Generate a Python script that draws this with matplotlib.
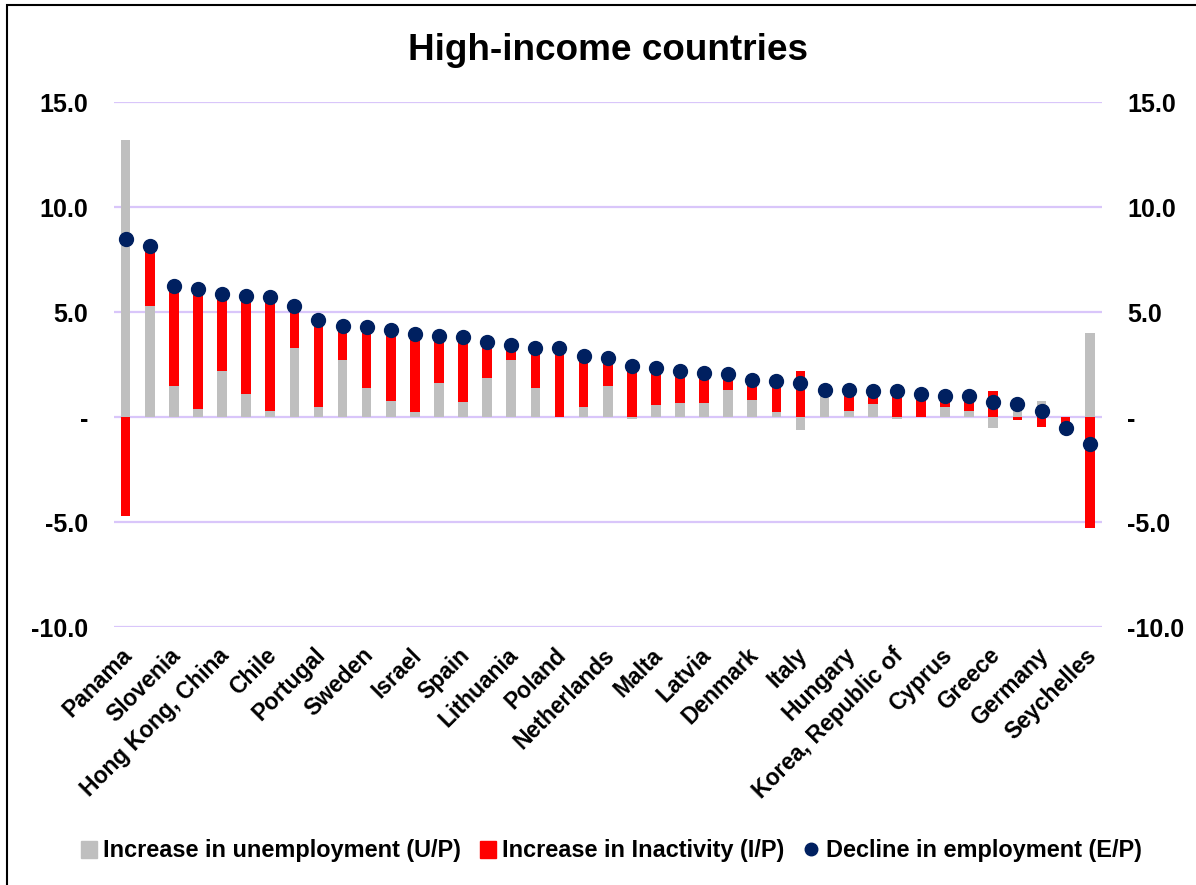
import numpy as np
import matplotlib
matplotlib.use("Agg")
import matplotlib.pyplot as plt
import matplotlib.transforms as mtransforms
from matplotlib.patches import Patch, Rectangle
from matplotlib.lines import Line2D

plt.rcParams['font.family'] = ['Liberation Sans', 'DejaVu Sans']
plt.rcParams['font.weight'] = 'bold'

# labels shown on the axis (every second country)
labels = ["Panama", "Slovenia", "Hong Kong, China", "Chile", "Portugal", "Sweden",
          "Israel", "Spain", "Lithuania", "Poland", "Netherlands", "Malta", "Latvia",
          "Denmark", "Italy", "Hungary", "Korea, Republic of", "Cyprus", "Greece",
          "Germany", "Seychelles"]

# increase in unemployment (U/P)
unemp = [13.2, 5.3, 1.5, 0.4, 2.2, 1.1, 0.3, 3.3, 0.5, 2.7, 1.4, 0.75, 0.25, 1.6,
         0.7, 1.85, 2.7, 1.4, 0.0, 0.5, 1.5, -0.1, 0.55, 0.65, 0.65, 1.3, 0.8, 0.25,
         -0.6, 1.25, 0.27, 0.6, -0.1, 0.0, 0.5, 0.3, -0.5, 0.73, 0.78, 0.0, 4.0]
# increase in inactivity (I/P)
inact = [-4.7, 2.85, 4.75, 5.7, 3.65, 4.65, 5.4, 2.0, 4.1, 1.65, 2.9, 3.4, 3.7, 2.25,
         3.1, 1.7, 0.75, 1.9, 3.3, 2.4, 1.3, 2.55, 1.8, 1.55, 1.45, 0.75, 0.95, 1.45,
         2.2, 0.05, 1.0, 0.65, 1.32, 1.1, 0.52, 0.7, 1.23, -0.13, -0.48, -0.5, -5.3]
# decline in employment (E/P)
emp = [8.5, 8.15, 6.25, 6.1, 5.85, 5.75, 5.7, 5.3, 4.6, 4.35, 4.3, 4.15, 3.95, 3.85,
       3.8, 3.55, 3.45, 3.3, 3.3, 2.9, 2.8, 2.45, 2.35, 2.2, 2.1, 2.05, 1.75, 1.7,
       1.6, 1.3, 1.27, 1.25, 1.22, 1.1, 1.02, 1.0, 0.73, 0.6, 0.3, -0.5, -1.3]

yticks = [-10, -5, 0, 5, 10, 15]

grey = '#BFBFBF'
red = '#FF0000'
navy = '#002060'
gridc = '#D9C6FA'

u = np.array(unemp)
i_ = np.array(inact)
x = np.arange(len(u))
# excel-style stacking: positives on positives, negatives on negatives
red_bottom = np.where(i_ >= 0, np.maximum(u, 0), np.minimum(u, 0))

fig = plt.figure(figsize=(11.96, 8.85), dpi=100)
ax = fig.add_axes([0.0950, 0.2915, 0.8262, 0.5932])

ax.bar(x, u, width=0.4, color=grey, zorder=2)
ax.bar(x, i_, width=0.4, bottom=red_bottom, color=red, zorder=2)
ax.plot(x, emp, linestyle='none', marker='o', markersize=10, color=navy, zorder=3)

ax.set_xlim(-0.5, len(u) - 0.5)
ax.set_ylim(-10, 15)
ax.set_yticks(yticks)
ax.set_yticklabels(['-' if v == 0 else f'{v:.1f}' for v in yticks])
ax.yaxis.grid(True, color=gridc, linewidth=1.6, zorder=0)
ax.set_axisbelow(True)
ax.tick_params(axis='y', length=0, labelsize=18, labelright=True, pad=18.5)
for s in ax.spines.values():
    s.set_visible(False)

ax.set_xticks(x[::2])
ax.set_xticklabels(labels, rotation=45, ha='right', rotation_mode='anchor', fontsize=16.5)
ax.tick_params(axis='x', length=0, pad=12)
shift = mtransforms.ScaledTranslation(-5 / 100, 0, fig.dpi_scale_trans)
for lab in ax.get_xticklabels():
    lab.set_transform(lab.get_transform() + shift)

fig.text(0.508, 0.943, 'High-income countries', ha='center', va='center',
         fontsize=26.6, fontweight='bold')

handles = [Patch(color=grey), Patch(color=red),
           Line2D([], [], linestyle='none', marker='o', markersize=9, color=navy)]
names = ['Increase in unemployment (U/P)', 'Increase in Inactivity (I/P)',
         'Decline in employment (E/P)']
fig.legend(handles, names, loc='center', bbox_to_anchor=(0.511, 1 - 851 / 885), ncol=3,
           frameon=False, fontsize=16.9, handlelength=0.7, handleheight=0.7,
           handletextpad=0.25, columnspacing=0.8)

fig.patches.append(Rectangle((7 / 1196, -0.05), 1.2, 1.05 - 5 / 885, transform=fig.transFigure,
                             fill=False, edgecolor='black', linewidth=1.5))

fig.savefig('out.png', dpi=100)
